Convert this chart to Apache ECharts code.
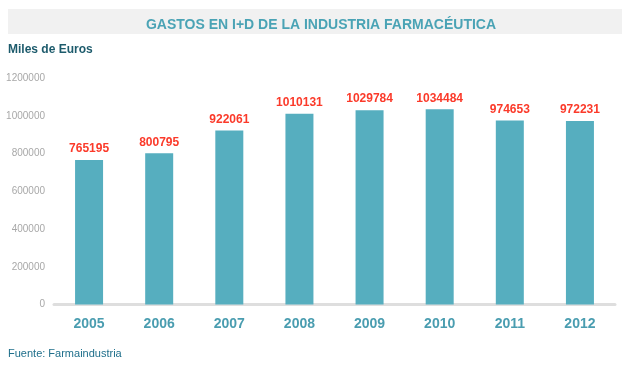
<!DOCTYPE html>
<html>
<head>
<meta charset="utf-8">
<script src="https://cdn.jsdelivr.net/npm/echarts@6/dist/echarts.min.js"></script>
<style>html,body{margin:0;padding:0;background:#fff;}#c{width:632px;height:378px;}</style>
</head>
<body>
<div id="c"></div>
<script>
var categories = ['2005','2006','2007','2008','2009','2010','2011','2012'];
var values = [765195, 800795, 922061, 1010131, 1029784, 1034484, 974653, 972231];
var titleText = 'GASTOS EN I+D DE LA INDUSTRIA FARMACÉUTICA';
var unitText = 'Miles de Euros';
var sourceText = 'Fuente: Farmaindustria';

var chart = echarts.init(document.getElementById('c'), null, {renderer: 'canvas'});
chart.setOption({
  animation: false,
  backgroundColor: '#ffffff',
  textStyle: {fontFamily: 'Liberation Sans, Arial, sans-serif'},
  graphic: [
    {type: 'rect', left: 8, top: 9, shape: {width: 614, height: 25}, style: {fill: '#f1f1f1'}, z: -1},
    {type: 'text', left: 8, top: 44, style: {text: unitText, fill: '#1d5b6c', font: 'bold 12px Liberation Sans, Arial'}},
    {type: 'text', left: 8, top: 348, style: {text: sourceText, fill: '#1f6f8b', font: '11px Liberation Sans, Arial'}}
  ],
  title: {
    text: titleText,
    left: 316, top: 13, textAlign: 'center',
    textStyle: {color: '#4aa3b5', fontSize: 14, fontWeight: 'bold', fontFamily: 'Liberation Sans, Arial'}
  },
  grid: {left: 54, right: 17, top: 78, bottom: 73.5, containLabel: false},
  xAxis: {
    type: 'category',
    data: categories,
    offset: 2,
    axisLine: {lineStyle: {color: '#dedede', width: 3}},
    axisTick: {show: false},
    axisLabel: {color: '#4a9db0', fontSize: 14, fontWeight: 'bold', margin: 11}
  },
  yAxis: {
    type: 'value',
    min: 0, max: 1200000, interval: 200000,
    axisLine: {show: false},
    axisTick: {show: false},
    splitLine: {show: false},
    axisLabel: {color: '#a8a8a8', fontSize: 10, margin: 9, formatter: function (v) { return String(v); }}
  },
  series: [{
    type: 'bar',
    data: values,
    barWidth: 28,
    itemStyle: {color: '#56aebf'},
    label: {show: true, position: 'top', distance: 5, color: '#fb3a2a', fontSize: 12, fontWeight: 'bold'}
  }]
});
</script>
</body>
</html>
